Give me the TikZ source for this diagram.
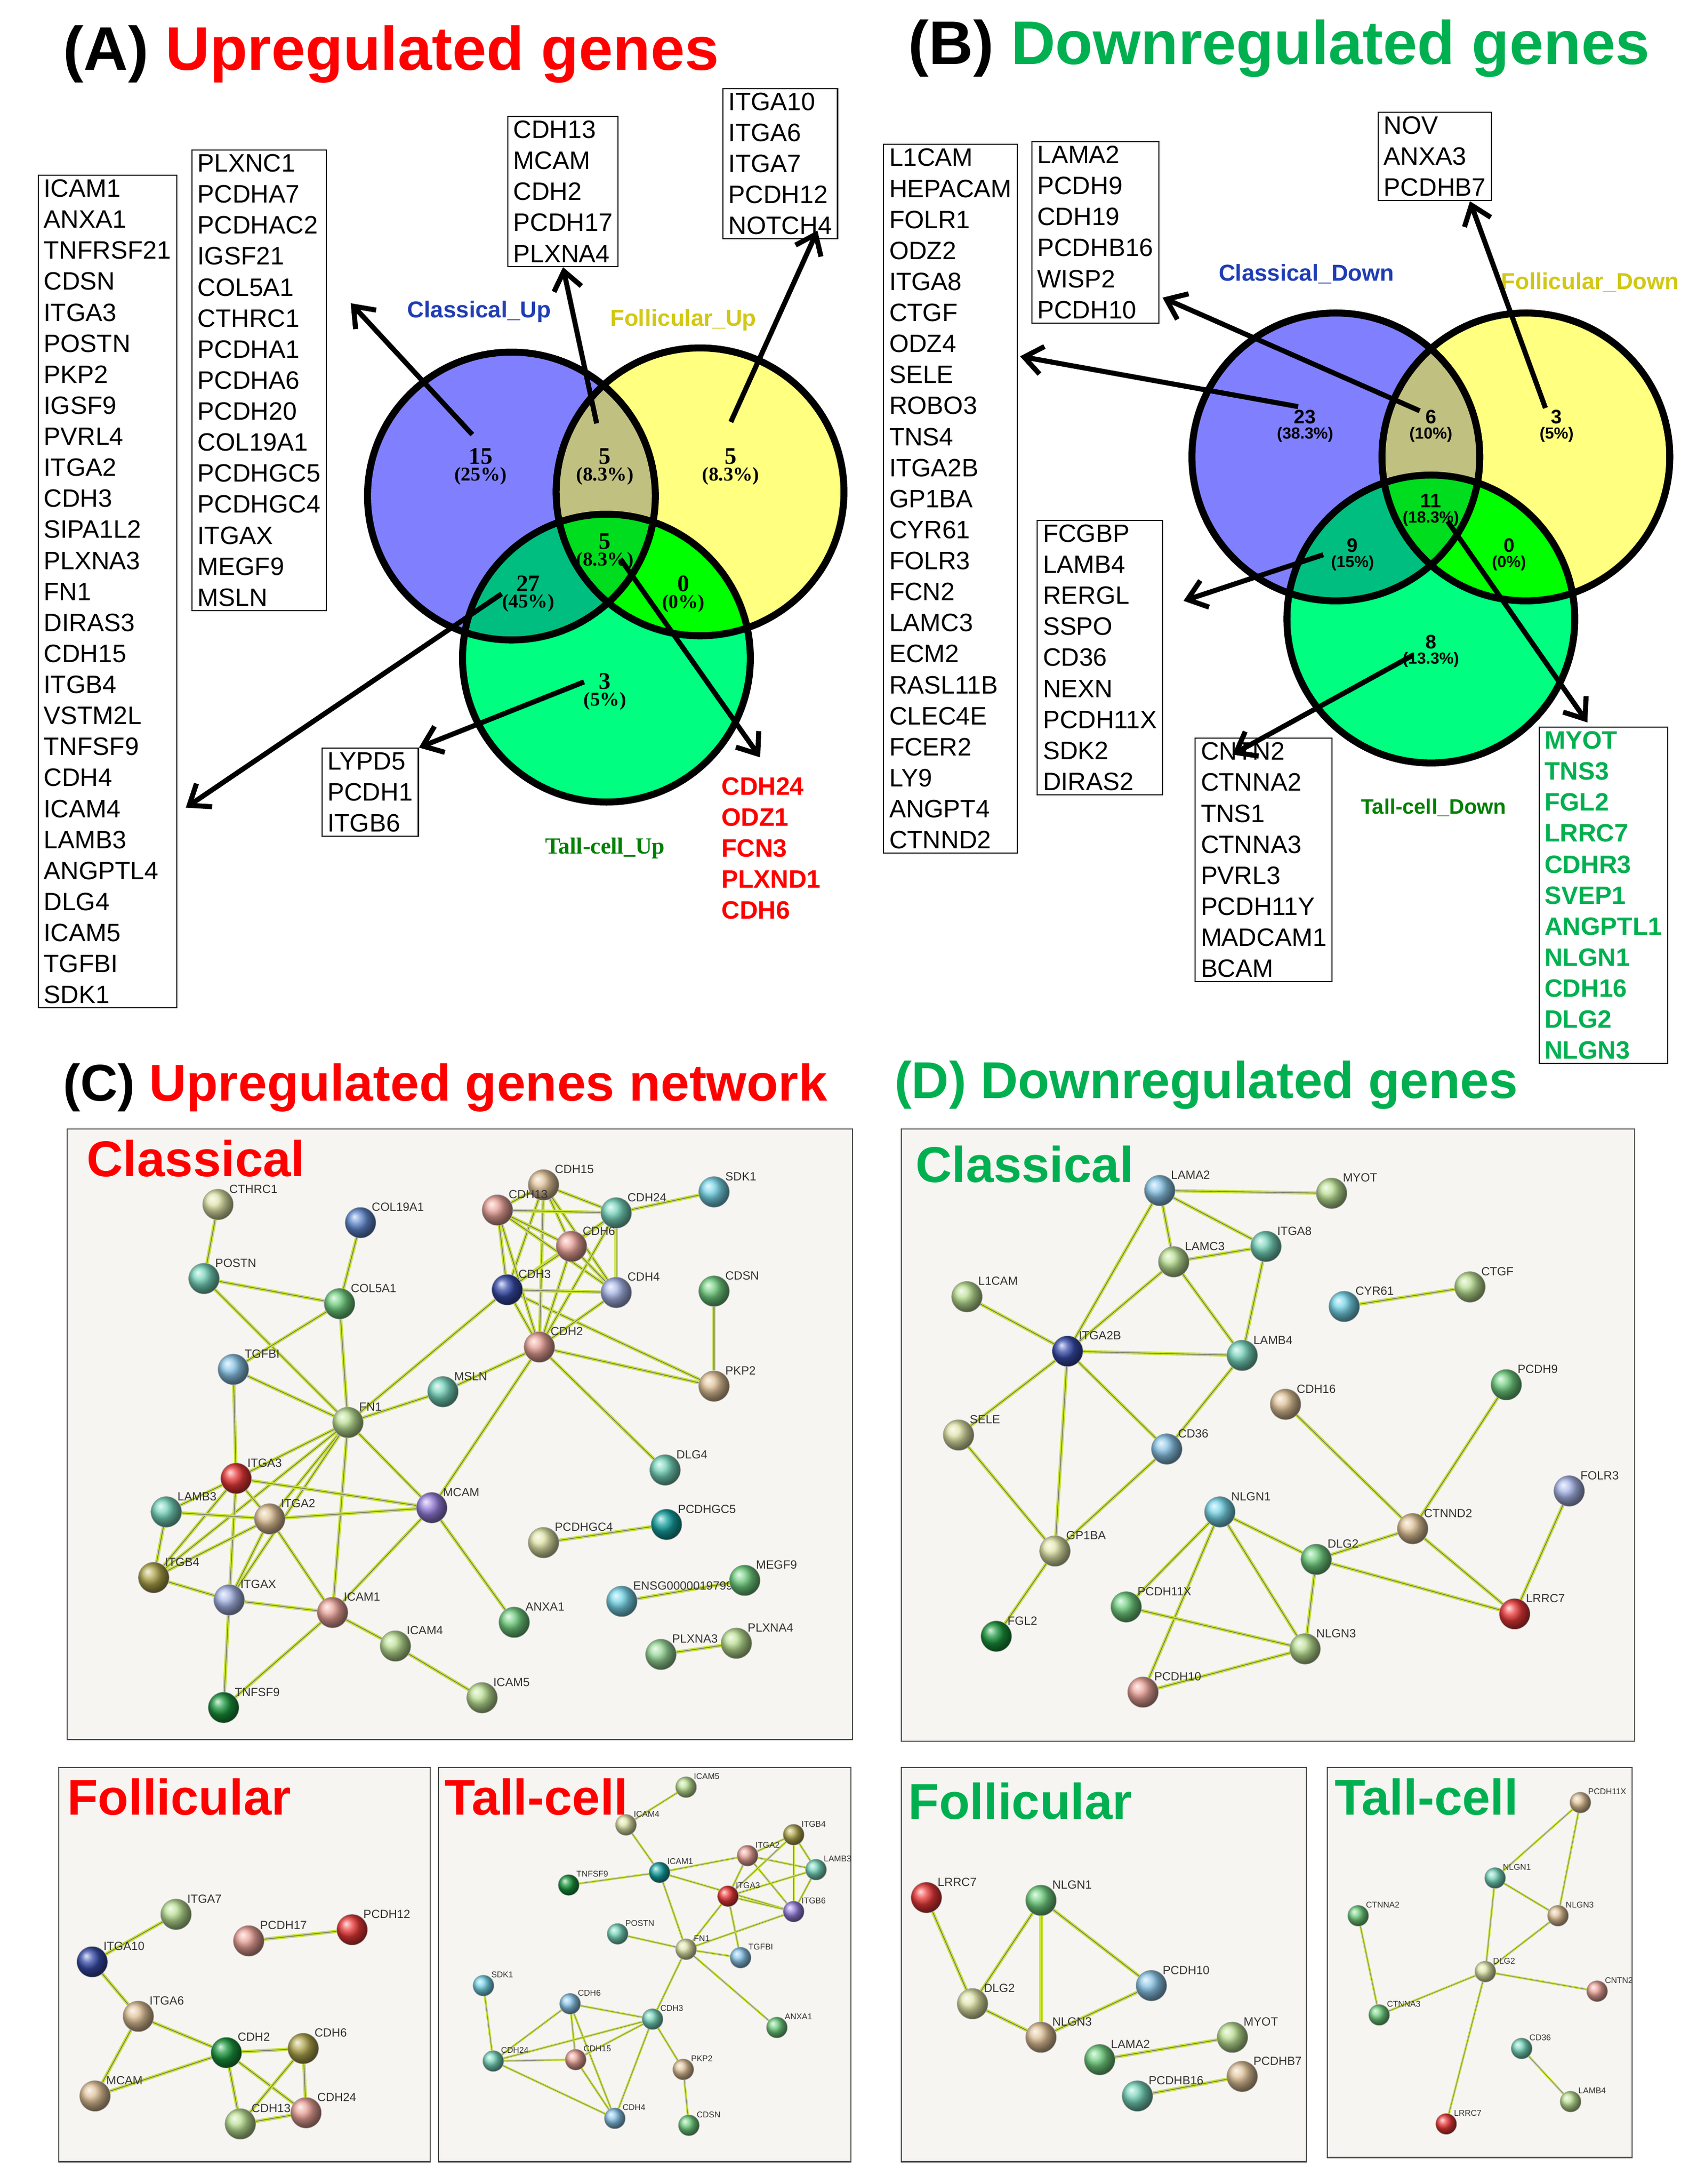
\documentclass[tikz,border=0pt]{standalone}
\usepackage{fontspec}
\setmainfont{Liberation Sans}
\newfontfamily\tms{Liberation Serif}
\usetikzlibrary{arrows.meta}
\pgfdeclarelayer{edges}
\pgfsetlayers{edges,main}
\definecolor{vblue}{RGB}{128,128,255}
\definecolor{vyel}{RGB}{255,255,128}
\definecolor{vgrn}{RGB}{0,255,128}
\definecolor{vby}{RGB}{192,192,128}
\definecolor{vbg}{RGB}{0,190,128}
\definecolor{vyg}{RGB}{0,255,0}
\definecolor{vc}{RGB}{0,220,30}
\definecolor{tred}{RGB}{255,0,0}
\definecolor{tgrn}{RGB}{0,176,80}
\definecolor{lblue}{RGB}{30,60,180}
\definecolor{lyel}{RGB}{210,200,20}
\definecolor{lgrn}{RGB}{0,128,0}
\definecolor{panel}{RGB}{246,245,241}
\definecolor{cY}{RGB}{222,226,165}
\definecolor{cB}{RGB}{95,135,205}
\definecolor{cT}{RGB}{115,210,185}
\definecolor{cG}{RGB}{110,205,125}
\definecolor{cLB}{RGB}{135,195,230}
\definecolor{cR}{RGB}{235,55,55}
\definecolor{cP}{RGB}{150,125,220}
\definecolor{cS}{RGB}{232,160,150}
\definecolor{cTan}{RGB}{222,192,150}
\definecolor{cO}{RGB}{175,165,75}
\definecolor{cDB}{RGB}{55,75,170}
\definecolor{cDG}{RGB}{25,150,60}
\definecolor{cDT}{RGB}{20,160,160}
\definecolor{cLG}{RGB}{185,222,145}
\definecolor{cCy}{RGB}{115,210,230}
\definecolor{cPB}{RGB}{165,180,230}
\definecolor{cPG}{RGB}{150,215,150}
\definecolor{elg}{RGB}{200,225,60}
\tikzset{
 gl/.style={font=\fontsize{8.5}{9}\selectfont,inner sep=0pt,text=black!80},
 gls/.style={font=\fontsize{6}{7}\selectfont,inner sep=0pt,text=black!80},
 gn/.style={circle,minimum size=22pt,inner sep=0pt,draw=black!35,line width=0.3pt},
 gs/.style={circle,minimum size=15pt,inner sep=0pt,draw=black!35,line width=0.3pt},
 e/.style={draw=black!55,line width=0.5pt,preaction={draw=elg,line width=2.4pt}},
 es/.style={draw=black!50,line width=0.35pt,preaction={draw=elg,line width=1.6pt}},
 vline/.style={line width=5pt},
 arr/.style={line width=3.6pt,-{Straight Barb[length=13pt,width=20pt,line width=3.6pt]}},
 glist/.style={draw=black,line width=0.8pt,anchor=north west,align=left,inner xsep=4pt,inner ysep=3pt,font=\fontsize{18}{22.2}\selectfont},
 cnt/.style={align=center,font=\tms\bfseries\fontsize{17}{13}\selectfont,inner sep=0pt},
 cntb/.style={align=center,font=\bfseries\fontsize{14}{12}\selectfont,inner sep=0pt},
 vlab/.style={font=\bfseries\fontsize{16.5}{17}\selectfont},
 ttl/.style={font=\bfseries\fontsize{44}{48}\selectfont,anchor=base west,inner sep=0pt},
 ttc/.style={font=\bfseries\fontsize{37}{40}\selectfont,anchor=base west,inner sep=0pt},
 pnl/.style={fill=panel,draw=black!70,line width=0.8pt},
 plab/.style={font=\bfseries\fontsize{36}{38}\selectfont,anchor=base west,inner sep=0pt},
}
\newcommand\gnd[5]{\node[gn,ball color=#4,label={[gl]45:#5}] (#1) at (#2,#3) {};}
\newcommand\gsm[5]{\node[gs,ball color=#4,label={[gls]45:#5}] (#1) at (#2,#3) {};}
\newcommand\pct[1]{\\[-1pt]{\fontsize{11.5}{11}\selectfont #1}}
\newcommand\pcta[1]{\\[-1pt]{\fontsize{14}{12}\selectfont #1}}
\newcommand\edges[2]{\begin{pgfonlayer}{edges}\foreach \a/\b in {#2}{\draw[#1] (\a) -- (\b);}\end{pgfonlayer}}
\begin{document}
\begin{tikzpicture}[x=1pt,y=-1pt]
\useasboundingbox (0,0) rectangle (1220,1563);
% ---------------- titles
\node[ttl] (tA) at (45,50) {(A) \textcolor{tred}{Upregulated genes}};
\node[ttl] (tB) at (650,46) {(B) \textcolor{tgrn}{Downregulated genes}};
\node[ttc] (tC) at (45,788) {(C) \textcolor{tred}{Upregulated genes network}};
\node[ttc,text=tgrn] (tD) at (640,786) {(D) Downregulated genes};
% ---------------- Venn A
\fill[vblue] (366,355) circle (103pt);
\fill[vyel] (501,352) circle (103pt);
\fill[vgrn] (434,471) circle (103pt);
\begin{scope}\clip (366,355) circle (103pt); \fill[vby] (501,352) circle (103pt); \fill[vbg] (434,471) circle (103pt);\end{scope}
\begin{scope}\clip (501,352) circle (103pt); \fill[vyg] (434,471) circle (103pt);\end{scope}
\begin{scope}\clip (366,355) circle (103pt); \clip (501,352) circle (103pt); \fill[vc] (434,471) circle (103pt);\end{scope}
\draw[vline] (366,355) circle (103pt) (501,352) circle (103pt) (434,471) circle (103pt);
\node[cnt] (a15) at (344,334) {15\pcta{(25\%)}};
\node[cnt] (a5t) at (433,334) {5\pcta{(8.3\%)}};
\node[cnt] (a5r) at (523,334) {5\pcta{(8.3\%)}};
\node[cnt] (a5c) at (433,395) {5\pcta{(8.3\%)}};
\node[cnt] (a27) at (378,425) {27\pcta{(45\%)}};
\node[cnt] (a0) at (489,425) {0\pcta{(0\%)}};
\node[cnt] (a3) at (433,495) {3\pcta{(5\%)}};
\node[vlab,text=lblue] (lA1) at (343,223) {Classical\_Up};
\node[vlab,text=lyel] (lA2) at (489,229) {Follicular\_Up};
\node[vlab,text=lgrn,font=\tms\bfseries\fontsize{16.5}{17}\selectfont] (lA3) at (433,607) {Tall-cell\_Up};
% lists A
\node[glist] (bA1) at (27,125) {ICAM1\\ANXA1\\TNFRSF21\\CDSN\\ITGA3\\POSTN\\PKP2\\IGSF9\\PVRL4\\ITGA2\\CDH3\\SIPA1L2\\PLXNA3\\FN1\\DIRAS3\\CDH15\\ITGB4\\VSTM2L\\TNFSF9\\CDH4\\ICAM4\\LAMB3\\ANGPTL4\\DLG4\\ICAM5\\TGFBI\\SDK1};
\node[glist] (bA2) at (137,107) {PLXNC1\\PCDHA7\\PCDHAC2\\IGSF21\\COL5A1\\CTHRC1\\PCDHA1\\PCDHA6\\PCDH20\\COL19A1\\PCDHGC5\\PCDHGC4\\ITGAX\\MEGF9\\MSLN};
\node[glist] (bA3) at (363,83) {CDH13\\MCAM\\CDH2\\PCDH17\\PLXNA4};
\node[glist] (bA4) at (517,63) {ITGA10\\ITGA6\\ITGA7\\PCDH12\\NOTCH4};
\node[glist] (bA5) at (230,535) {LYPD5\\PCDH1\\ITGB6};
\node[glist,draw=none,text=tred,font=\bfseries\fontsize{18}{22.2}\selectfont] (bA6) at (512,553) {CDH24\\ODZ1\\FCN3\\PLXND1\\CDH6};
\coordinate (pa15) at (338,311); \coordinate (pa5t) at (427,303); \coordinate (pa5r) at (523,302);
\coordinate (pa27) at (359,425); \coordinate (pa3) at (418,488); \coordinate (pa5c) at (444,400);
\draw[arr] (pa15) -- (251,217);
\draw[arr] (pa5t) -- (bA3.south);
\draw[arr] (pa5r) -- (585,165);
\draw[arr] (pa27) -- (133,578);
\draw[arr] (pa3) -- (bA5.north east);
\draw[arr] (pa5c) -- (544,542);
% ---------------- Venn B
\fill[vblue] (956,327) circle (103pt);
\fill[vyel] (1092,327) circle (103pt);
\fill[vgrn] (1024,443) circle (103pt);
\begin{scope}\clip (956,327) circle (103pt); \fill[vby] (1092,327) circle (103pt); \fill[vbg] (1024,443) circle (103pt);\end{scope}
\begin{scope}\clip (1092,327) circle (103pt); \fill[vyg] (1024,443) circle (103pt);\end{scope}
\begin{scope}\clip (956,327) circle (103pt); \clip (1092,327) circle (103pt); \fill[vc] (1024,443) circle (103pt);\end{scope}
\draw[vline] (956,327) circle (103pt) (1092,327) circle (103pt) (1024,443) circle (103pt);
\node[cntb] (b23) at (934,305) {23\pct{(38.3\%)}};
\node[cntb] (b6) at (1024,305) {6\pct{(10\%)}};
\node[cntb] (b3) at (1114,305) {3\pct{(5\%)}};
\node[cntb] (b11) at (1024,365) {11\pct{(18.3\%)}};
\node[cntb] (b9) at (968,397) {9\pct{(15\%)}};
\node[cntb] (b0) at (1080,397) {0\pct{(0\%)}};
\node[cntb] (b8) at (1024,466) {8\pct{(13.3\%)}};
\node[vlab,text=lblue] (lB1) at (935,196) {Classical\_Down};
\node[vlab,text=lyel] (lB2) at (1138,202) {Follicular\_Down};
\node[vlab,text=lgrn,font=\bfseries\fontsize{15}{16}\selectfont] (lB3) at (1026,578) {Tall-cell\_Down};
\node[glist] (bB1) at (632,103) {L1CAM\\HEPACAM\\FOLR1\\ODZ2\\ITGA8\\CTGF\\ODZ4\\SELE\\ROBO3\\TNS4\\ITGA2B\\GP1BA\\CYR61\\FOLR3\\FCN2\\LAMC3\\ECM2\\RASL11B\\CLEC4E\\FCER2\\LY9\\ANGPT4\\CTNND2};
\node[glist] (bB2) at (738,101) {LAMA2\\PCDH9\\CDH19\\PCDHB16\\WISP2\\PCDH10};
\node[glist] (bB3) at (986,80) {NOV\\ANXA3\\PCDHB7};
\node[glist] (bB4) at (742,372) {FCGBP\\LAMB4\\RERGL\\SSPO\\CD36\\NEXN\\PCDH11X\\SDK2\\DIRAS2};
\node[glist] (bB5) at (855,528) {CNTN2\\CTNNA2\\TNS1\\CTNNA3\\PVRL3\\PCDH11Y\\MADCAM1\\BCAM};
\node[glist,text=tgrn,font=\bfseries\fontsize{18}{22.2}\selectfont] (bB6) at (1101,520) {MYOT\\TNS3\\FGL2\\LRRC7\\CDHR3\\SVEP1\\ANGPTL1\\NLGN1\\CDH16\\DLG2\\NLGN3};
\coordinate (pb23) at (929,291); \coordinate (pb6) at (1016,294); \coordinate (pb3) at (1106,292);
\coordinate (pb9) at (947,397); \coordinate (pb8) at (1011,469); \coordinate (pb11) at (1036,373);
\draw[arr] (pb23) -- (730,255);
\draw[arr] (pb6) -- (832,213);
\draw[arr] (pb3) -- (1052,144);
\draw[arr] (pb9) -- (847,430);
\draw[arr] (pb8) -- (882,540);
\draw[arr] (pb11) -- (1136,517);
% ---------------- panels (on edges layer, under everything)
\begin{pgfonlayer}{edges}
\draw[pnl] (48,808) rectangle (610,1245);
\draw[pnl] (645,808) rectangle (1170,1246);
\draw[pnl] (42,1265) rectangle (308,1547);
\draw[pnl] (314,1265) rectangle (609,1547);
\draw[pnl] (645,1265) rectangle (935,1547);
\draw[pnl] (950,1265) rectangle (1168,1544);
\end{pgfonlayer}
% ---------------- Panel C classical
\node[plab,text=tred] (pC) at (62,842) {Classical};
\gnd{c1}{156}{862}{cY}{CTHRC1}
\gnd{c2}{258}{875}{cB}{COL19A1}
\gnd{c3}{146}{915}{cT}{POSTN}
\gnd{c4}{243}{933}{cG}{COL5A1}
\gnd{c5}{167}{980}{cLB}{TGFBI}
\gnd{c6}{249}{1018}{cLG}{FN1}
\gnd{c7}{317}{996}{cT}{MSLN}
\gnd{c8}{389}{848}{cTan}{CDH15}
\gnd{c9}{356}{866}{cS}{CDH13}
\gnd{c10}{441}{868}{cT}{CDH24}
\gnd{c11}{511}{853}{cCy}{SDK1}
\gnd{c12}{409}{892}{cS}{CDH6}
\gnd{c13}{363}{923}{cDB}{CDH3}
\gnd{c14}{441}{925}{cPB}{CDH4}
\gnd{c15}{511}{924}{cG}{CDSN}
\gnd{c16}{386}{964}{cS}{CDH2}
\gnd{c17}{511}{992}{cTan}{PKP2}
\gnd{c18}{476}{1052}{cT}{DLG4}
\gnd{c19}{169}{1058}{cR}{ITGA3}
\gnd{c20}{119}{1082}{cT}{LAMB3}
\gnd{c21}{193}{1087}{cTan}{ITGA2}
\gnd{c22}{309}{1079}{cP}{MCAM}
\gnd{c23}{110}{1129}{cO}{ITGB4}
\gnd{c24}{164}{1145}{cPB}{ITGAX}
\gnd{c25}{238}{1154}{cS}{ICAM1}
\gnd{c26}{389}{1104}{cY}{PCDHGC4}
\gnd{c27}{477}{1091}{cDT}{PCDHGC5}
\gnd{c28}{368}{1161}{cG}{ANXA1}
\gnd{c29}{445}{1146}{cCy}{ENSG00000197991}
\gnd{c30}{533}{1131}{cG}{MEGF9}
\gnd{c31}{283}{1178}{cLG}{ICAM4}
\gnd{c32}{345}{1215}{cLG}{ICAM5}
\gnd{c33}{160}{1222}{cDG}{TNFSF9}
\gnd{c34}{473}{1184}{cPG}{PLXNA3}
\gnd{c35}{527}{1176}{cLG}{PLXNA4}
\edges{e}{c1/c3,c3/c4,c3/c6,c2/c4,c4/c5,c4/c6,c5/c6,c5/c19,c6/c7,c6/c13,c7/c16,c6/c19,c6/c21,c6/c24,c6/c25,c6/c22,c6/c23,c16/c22,c16/c18,c16/c17,c13/c17,c15/c17,c10/c11,
 c8/c9,c8/c10,c8/c12,c8/c13,c8/c14,c8/c16,c9/c10,c9/c12,c9/c13,c9/c14,c9/c16,c10/c12,c10/c13,c10/c14,c10/c16,c12/c13,c12/c14,c12/c16,c13/c14,c13/c16,c14/c16,
 c19/c20,c19/c21,c19/c23,c19/c24,c19/c22,c20/c21,c20/c23,c21/c23,c21/c24,c21/c25,c21/c22,c23/c24,c24/c25,c24/c33,c25/c31,c25/c33,c25/c22,c31/c32,c22/c28,c26/c27,c29/c30,c34/c35}
% ---------------- Panel D classical
\node[plab,text=tgrn] (pD) at (655,846) {Classical};
\gnd{d1}{830}{852}{cLB}{LAMA2}
\gnd{d2}{953}{854}{cLG}{MYOT}
\gnd{d3}{906}{892}{cT}{ITGA8}
\gnd{d4}{840}{903}{cLG}{LAMC3}
\gnd{d5}{692}{928}{cLG}{L1CAM}
\gnd{d6}{962}{935}{cCy}{CYR61}
\gnd{d7}{1052}{921}{cLG}{CTGF}
\gnd{d8}{764}{967}{cDB}{ITGA2B}
\gnd{d9}{889}{970}{cT}{LAMB4}
\gnd{d10}{1078}{991}{cG}{PCDH9}
\gnd{d11}{686}{1027}{cY}{SELE}
\gnd{d12}{920}{1005}{cTan}{CDH16}
\gnd{d13}{835}{1037}{cLB}{CD36}
\gnd{d14}{1123}{1067}{cPB}{FOLR3}
\gnd{d15}{873}{1082}{cCy}{NLGN1}
\gnd{d16}{1011}{1094}{cTan}{CTNND2}
\gnd{d17}{755}{1110}{cY}{GP1BA}
\gnd{d18}{942}{1116}{cG}{DLG2}
\gnd{d19}{1084}{1155}{cR}{LRRC7}
\gnd{d20}{806}{1150}{cG}{PCDH11X}
\gnd{d21}{713}{1171}{cDG}{FGL2}
\gnd{d22}{934}{1180}{cLG}{NLGN3}
\gnd{d23}{818}{1211}{cS}{PCDH10}
\edges{e}{d1/d2,d1/d3,d1/d4,d1/d8,d4/d3,d4/d8,d4/d9,d3/d9,d5/d8,d8/d9,d8/d11,d8/d17,d8/d13,d9/d13,d6/d7,d11/d17,d13/d17,d17/d21,d12/d16,d10/d16,d14/d19,d15/d18,d15/d22,d15/d20,d15/d23,d18/d16,d18/d22,d18/d19,d16/d19,d20/d22,d23/d22}
% ---------------- Panel C follicular
\node[plab,text=tred] (pCF) at (48,1299) {Follicular};
\gnd{f1}{126}{1370}{cLG}{ITGA7}
\gnd{f2}{178}{1389}{cS}{PCDH17}
\gnd{f3}{252}{1381}{cR}{PCDH12}
\gnd{f4}{66}{1404}{cDB}{ITGA10}
\gnd{f5}{99}{1443}{cTan}{ITGA6}
\gnd{f6}{162}{1469}{cDG}{CDH2}
\gnd{f7}{217}{1466}{cO}{CDH6}
\gnd{f8}{68}{1500}{cTan}{MCAM}
\gnd{f9}{219}{1512}{cS}{CDH24}
\gnd{f10}{172}{1520}{cLG}{CDH13}
\edges{e}{f1/f4,f2/f3,f4/f5,f5/f6,f5/f8,f8/f6,f6/f7,f6/f10,f6/f9,f7/f10,f7/f9,f10/f9}
% ---------------- Panel C tall-cell
\node[plab,text=tred] (pCT) at (318,1299) {Tall-cell};
\gsm{t1}{491}{1279}{cLG}{ICAM5}
\gsm{t2}{448}{1306}{cY}{ICAM4}
\gsm{t3}{568}{1313}{cO}{ITGB4}
\gsm{t4}{535}{1328}{cS}{ITGA2}
\gsm{t5}{584}{1338}{cT}{LAMB3}
\gsm{t6}{472}{1340}{cDT}{ICAM1}
\gsm{t7}{407}{1349}{cDG}{TNFSF9}
\gsm{t8}{521}{1357}{cR}{ITGA3}
\gsm{t9}{568}{1368}{cP}{ITGB6}
\gsm{t10}{442}{1384}{cT}{POSTN}
\gsm{t11}{491}{1395}{cY}{FN1}
\gsm{t12}{530}{1401}{cLB}{TGFBI}
\gsm{t13}{346}{1421}{cCy}{SDK1}
\gsm{t14}{408}{1434}{cLB}{CDH6}
\gsm{t15}{467}{1445}{cT}{CDH3}
\gsm{t16}{556}{1451}{cG}{ANXA1}
\gsm{t17}{353}{1475}{cT}{CDH24}
\gsm{t18}{412}{1474}{cS}{CDH15}
\gsm{t19}{489}{1481}{cTan}{PKP2}
\gsm{t20}{440}{1516}{cLB}{CDH4}
\gsm{t21}{493}{1521}{cG}{CDSN}
\edges{es}{t1/t2,t2/t6,t6/t7,t6/t4,t6/t9,t6/t11,t4/t3,t4/t5,t4/t8,t4/t9,t3/t5,t3/t8,t3/t9,t5/t8,t5/t9,t8/t9,t8/t11,t8/t12,t9/t11,t11/t10,t11/t12,t11/t15,t11/t16,t13/t17,t14/t15,t14/t17,t14/t18,t14/t20,t15/t17,t15/t18,t15/t20,t15/t19,t17/t18,t17/t20,t18/t20,t19/t21}
% ---------------- Panel D follicular
\node[plab,text=tgrn] (pDF) at (650,1302) {Follicular};
\gnd{g1}{663}{1358}{cR}{LRRC7}
\gnd{g2}{745}{1360}{cG}{NLGN1}
\gnd{g3}{824}{1421}{cLB}{PCDH10}
\gnd{g4}{696}{1434}{cY}{DLG2}
\gnd{g5}{745}{1458}{cTan}{NLGN3}
\gnd{g6}{882}{1458}{cLG}{MYOT}
\gnd{g7}{787}{1474}{cG}{LAMA2}
\gnd{g8}{889}{1486}{cTan}{PCDHB7}
\gnd{g9}{814}{1500}{cT}{PCDHB16}
\edges{e}{g1/g4,g4/g2,g4/g5,g2/g5,g2/g3,g5/g3,g7/g6,g9/g8}
% ---------------- Panel D tall-cell
\node[plab,text=tgrn] (pDT) at (955,1299) {Tall-cell};
\begin{scope}
\clip (950,1265) rectangle (1168,1544);
\gsm{h1}{1131}{1290}{cTan}{PCDH11X}
\gsm{h2}{1070}{1344}{cT}{NLGN1}
\gsm{h3}{972}{1371}{cG}{CTNNA2}
\gsm{h4}{1115}{1371}{cTan}{NLGN3}
\gsm{h5}{1063}{1411}{cY}{DLG2}
\gsm{h6}{1143}{1425}{cS}{CNTN2}
\gsm{h7}{987}{1442}{cG}{CTNNA3}
\gsm{h8}{1089}{1466}{cT}{CD36}
\gsm{h9}{1124}{1504}{cLG}{LAMB4}
\gsm{h10}{1035}{1520}{cR}{LRRC7}
\end{scope}
\edges{es}{h1/h2,h1/h4,h2/h4,h2/h5,h4/h5,h3/h7,h7/h5,h5/h6,h5/h10,h8/h9}
\end{tikzpicture}
\end{document}
